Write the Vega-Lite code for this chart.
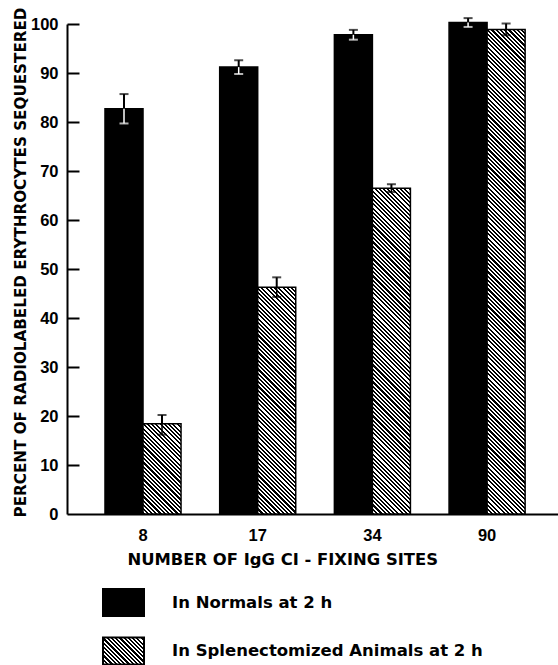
{
"$schema":"https://vega.github.io/schema/vega-lite/v6.json",
"width":491,"height":490,
"autosize":{"type":"none"},
"padding":{"left":67,"top":24,"right":0,"bottom":151},
"background":"#ffffff",
"config":{"view":{"stroke":null},"font":"DejaVu Sans"},
"resolve":{"axis":{"y":"independent"}},
"data":{"values":[
{"sites":"8","group":"In Normals at 2 h","value":82.7,"lo":79.7,"hi":85.7},
{"sites":"17","group":"In Normals at 2 h","value":91.2,"lo":89.8,"hi":92.6},
{"sites":"34","group":"In Normals at 2 h","value":97.8,"lo":96.8,"hi":98.8},
{"sites":"90","group":"In Normals at 2 h","value":100.3,"lo":99.4,"hi":101.2},
{"sites":"8","group":"In Splenectomized Animals at 2 h","value":18.4,"lo":16.2,"hi":20.2},
{"sites":"17","group":"In Splenectomized Animals at 2 h","value":46.3,"lo":44.3,"hi":48.3},
{"sites":"34","group":"In Splenectomized Animals at 2 h","value":66.5,"lo":65.7,"hi":67.3},
{"sites":"90","group":"In Splenectomized Animals at 2 h","value":98.9,"lo":97.7,"hi":100.1}
]},
"encoding":{
"x":{"field":"sites","type":"ordinal","sort":["8","17","34","90"],"scale":{"paddingInner":0.337,"paddingOuter":0.309,"align":0.536},
"axis":{"title":"NUMBER OF IgG CI - FIXING SITES","labelAngle":0,"ticks":false,"domainColor":"#000","domainWidth":2,"labelFont":"Liberation Sans","labelFontWeight":"bold","labelFontSize":16.5,"labelColor":"#000","labelPadding":13,"titleFont":"DejaVu Sans","titleFontWeight":"bold","titleFontSize":16.4,"titleColor":"#000","titleX":60,"titleY":45,"titleAlign":"left","titleAnchor":"start","titleBaseline":"middle"}},
"xOffset":{"field":"group","type":"nominal","sort":["In Normals at 2 h","In Splenectomized Animals at 2 h"],"scale":{"paddingInner":0,"paddingOuter":0}}
},
"layer":[
{"mark":{"type":"bar","stroke":"#000","strokeWidth":1.5},
"encoding":{
"y":{"field":"value","type":"quantitative","scale":{"domain":[0,100],"nice":false,"zero":true},
"axis":{"title":"PERCENT OF RADIOLABELED ERYTHROCYTES SEQUESTERED","orient":"left","values":[0,10,20,30,40,50,60,70,80,90,100],"grid":false,"ticks":false,"domainColor":"#000","domainWidth":2,"labelFont":"Liberation Sans","labelFontWeight":"bold","labelFontSize":16.5,"labelColor":"#000","labelPadding":9,"titleFont":"DejaVu Sans","titleFontWeight":"bold","titleFontSize":15.2,"titleColor":"#000","titleX":-47,"titleY":238,"titleAlign":"center","titleBaseline":"middle","titleAngle":-90}},
"fill":{"field":"group","type":"nominal","scale":{"domain":["In Normals at 2 h","In Splenectomized Animals at 2 h"],"range":["#000",{"expr":"{gradient:'linear',x1:0,y1:1,x2:9.0102,y2:-4.9467,stops:[{offset:0,color:'#000'},{offset:0.004,color:'#000'},{offset:0.004,color:'#fff'},{offset:0.008,color:'#fff'},{offset:0.008,color:'#000'},{offset:0.012,color:'#000'},{offset:0.012,color:'#fff'},{offset:0.016,color:'#fff'},{offset:0.016,color:'#000'},{offset:0.02,color:'#000'},{offset:0.02,color:'#fff'},{offset:0.024,color:'#fff'},{offset:0.024,color:'#000'},{offset:0.028,color:'#000'},{offset:0.028,color:'#fff'},{offset:0.032,color:'#fff'},{offset:0.032,color:'#000'},{offset:0.036,color:'#000'},{offset:0.036,color:'#fff'},{offset:0.04,color:'#fff'},{offset:0.04,color:'#000'},{offset:0.044,color:'#000'},{offset:0.044,color:'#fff'},{offset:0.048,color:'#fff'},{offset:0.048,color:'#000'},{offset:0.052,color:'#000'},{offset:0.052,color:'#fff'},{offset:0.056,color:'#fff'},{offset:0.056,color:'#000'},{offset:0.06,color:'#000'},{offset:0.06,color:'#fff'},{offset:0.064,color:'#fff'},{offset:0.064,color:'#000'},{offset:0.068,color:'#000'},{offset:0.068,color:'#fff'},{offset:0.072,color:'#fff'},{offset:0.072,color:'#000'},{offset:0.076,color:'#000'},{offset:0.076,color:'#fff'},{offset:0.08,color:'#fff'},{offset:0.08,color:'#000'},{offset:0.084,color:'#000'},{offset:0.084,color:'#fff'},{offset:0.088,color:'#fff'},{offset:0.088,color:'#000'},{offset:0.092,color:'#000'},{offset:0.092,color:'#fff'},{offset:0.096,color:'#fff'},{offset:0.096,color:'#000'},{offset:0.1,color:'#000'},{offset:0.1,color:'#fff'},{offset:0.104,color:'#fff'},{offset:0.104,color:'#000'},{offset:0.108,color:'#000'},{offset:0.108,color:'#fff'},{offset:0.112,color:'#fff'},{offset:0.112,color:'#000'},{offset:0.116,color:'#000'},{offset:0.116,color:'#fff'},{offset:0.12,color:'#fff'},{offset:0.12,color:'#000'},{offset:0.124,color:'#000'},{offset:0.124,color:'#fff'},{offset:0.128,color:'#fff'},{offset:0.128,color:'#000'},{offset:0.132,color:'#000'},{offset:0.132,color:'#fff'},{offset:0.136,color:'#fff'},{offset:0.136,color:'#000'},{offset:0.14,color:'#000'},{offset:0.14,color:'#fff'},{offset:0.144,color:'#fff'},{offset:0.144,color:'#000'}]}"}]},
"legend":{"orient":"none","legendX":35,"legendY":557,"title":null,"direction":"vertical","symbolType":"M-1,-0.66H1V0.66H-1Z","symbolSize":1681,"symbolStrokeColor":"#000","symbolStrokeWidth":2,"symbolOpacity":1,"rowPadding":8.5,"labelOffset":27,"labelFont":"DejaVu Sans","labelFontWeight":"bold","labelFontSize":16.5,"labelColor":"#000","labelLimit":0,"padding":0,
"encode":{"symbols":{"update":{"stroke":{"value":"#000"},"strokeWidth":{"value":2},"opacity":{"value":1}}}}},
"condition":[
{"test":"datum.group==='In Splenectomized Animals at 2 h' && datum.sites==='8'","value":{"gradient":"linear","x1":0,"y1":1,"x2":2.106,"y2":-3.9942,"stops":[
{"offset":0,"color":"#000"},
{"offset":0.004,"color":"#000"},{"offset":0.004,"color":"#fff"},{"offset":0.008,"color":"#fff"},{"offset":0.008,"color":"#000"},{"offset":0.012,"color":"#000"},{"offset":0.012,"color":"#fff"},{"offset":0.016,"color":"#fff"},{"offset":0.016,"color":"#000"},{"offset":0.02,"color":"#000"},{"offset":0.02,"color":"#fff"},{"offset":0.024,"color":"#fff"},{"offset":0.024,"color":"#000"},{"offset":0.028,"color":"#000"},{"offset":0.028,"color":"#fff"},{"offset":0.032,"color":"#fff"},{"offset":0.032,"color":"#000"},{"offset":0.036,"color":"#000"},{"offset":0.036,"color":"#fff"},{"offset":0.04,"color":"#fff"},{"offset":0.04,"color":"#000"},
{"offset":0.044,"color":"#000"},{"offset":0.044,"color":"#fff"},{"offset":0.048,"color":"#fff"},{"offset":0.048,"color":"#000"},{"offset":0.052,"color":"#000"},{"offset":0.052,"color":"#fff"},{"offset":0.056,"color":"#fff"},{"offset":0.056,"color":"#000"},{"offset":0.06,"color":"#000"},{"offset":0.06,"color":"#fff"},{"offset":0.064,"color":"#fff"},{"offset":0.064,"color":"#000"},{"offset":0.068,"color":"#000"},{"offset":0.068,"color":"#fff"},{"offset":0.072,"color":"#fff"},{"offset":0.072,"color":"#000"},{"offset":0.076,"color":"#000"},{"offset":0.076,"color":"#fff"},{"offset":0.08,"color":"#fff"},{"offset":0.08,"color":"#000"},
{"offset":0.084,"color":"#000"},{"offset":0.084,"color":"#fff"},{"offset":0.088,"color":"#fff"},{"offset":0.088,"color":"#000"},{"offset":0.092,"color":"#000"},{"offset":0.092,"color":"#fff"},{"offset":0.096,"color":"#fff"},{"offset":0.096,"color":"#000"},{"offset":0.1,"color":"#000"},{"offset":0.1,"color":"#fff"},{"offset":0.104,"color":"#fff"},{"offset":0.104,"color":"#000"},{"offset":0.108,"color":"#000"},{"offset":0.108,"color":"#fff"},{"offset":0.112,"color":"#fff"},{"offset":0.112,"color":"#000"},{"offset":0.116,"color":"#000"},{"offset":0.116,"color":"#fff"},{"offset":0.12,"color":"#fff"},{"offset":0.12,"color":"#000"},
{"offset":0.124,"color":"#000"},{"offset":0.124,"color":"#fff"},{"offset":0.128,"color":"#fff"},{"offset":0.128,"color":"#000"},{"offset":0.132,"color":"#000"},{"offset":0.132,"color":"#fff"},{"offset":0.136,"color":"#fff"},{"offset":0.136,"color":"#000"},{"offset":0.14,"color":"#000"},{"offset":0.14,"color":"#fff"},{"offset":0.144,"color":"#fff"},{"offset":0.144,"color":"#000"},{"offset":0.148,"color":"#000"},{"offset":0.148,"color":"#fff"},{"offset":0.152,"color":"#fff"},{"offset":0.152,"color":"#000"},{"offset":0.156,"color":"#000"},{"offset":0.156,"color":"#fff"},{"offset":0.16,"color":"#fff"},{"offset":0.16,"color":"#000"},
{"offset":0.164,"color":"#000"},{"offset":0.164,"color":"#fff"},{"offset":0.168,"color":"#fff"},{"offset":0.168,"color":"#000"},{"offset":0.172,"color":"#000"},{"offset":0.172,"color":"#fff"},{"offset":0.176,"color":"#fff"},{"offset":0.176,"color":"#000"},{"offset":0.18,"color":"#000"},{"offset":0.18,"color":"#fff"},{"offset":0.184,"color":"#fff"},{"offset":0.184,"color":"#000"},{"offset":0.188,"color":"#000"},{"offset":0.188,"color":"#fff"},{"offset":0.192,"color":"#fff"},{"offset":0.192,"color":"#000"},{"offset":0.196,"color":"#000"},{"offset":0.196,"color":"#fff"},{"offset":0.2,"color":"#fff"},{"offset":0.2,"color":"#000"},
{"offset":0.204,"color":"#000"},{"offset":0.204,"color":"#fff"},{"offset":0.208,"color":"#fff"},{"offset":0.208,"color":"#000"},{"offset":0.212,"color":"#000"},{"offset":0.212,"color":"#fff"},{"offset":0.216,"color":"#fff"},{"offset":0.216,"color":"#000"},{"offset":0.22,"color":"#000"},{"offset":0.22,"color":"#fff"},{"offset":0.224,"color":"#fff"},{"offset":0.224,"color":"#000"},{"offset":0.228,"color":"#000"},{"offset":0.228,"color":"#fff"},{"offset":0.232,"color":"#fff"},{"offset":0.232,"color":"#000"},{"offset":0.236,"color":"#000"},{"offset":0.236,"color":"#fff"},{"offset":0.24,"color":"#fff"},{"offset":0.24,"color":"#000"},
{"offset":0.244,"color":"#000"},{"offset":0.244,"color":"#fff"},{"offset":0.248,"color":"#fff"},{"offset":0.248,"color":"#000"}
]}},
{"test":"datum.group==='In Splenectomized Animals at 2 h' && datum.sites==='17'","value":{"gradient":"linear","x1":0,"y1":1,"x2":0.38106,"y2":-1.2738,"stops":[
{"offset":0,"color":"#000"},
{"offset":0.004,"color":"#000"},{"offset":0.004,"color":"#fff"},{"offset":0.008,"color":"#fff"},{"offset":0.008,"color":"#000"},{"offset":0.012,"color":"#000"},{"offset":0.012,"color":"#fff"},{"offset":0.016,"color":"#fff"},{"offset":0.016,"color":"#000"},{"offset":0.02,"color":"#000"},{"offset":0.02,"color":"#fff"},{"offset":0.024,"color":"#fff"},{"offset":0.024,"color":"#000"},{"offset":0.028,"color":"#000"},{"offset":0.028,"color":"#fff"},{"offset":0.032,"color":"#fff"},{"offset":0.032,"color":"#000"},{"offset":0.036,"color":"#000"},{"offset":0.036,"color":"#fff"},{"offset":0.04,"color":"#fff"},{"offset":0.04,"color":"#000"},
{"offset":0.044,"color":"#000"},{"offset":0.044,"color":"#fff"},{"offset":0.048,"color":"#fff"},{"offset":0.048,"color":"#000"},{"offset":0.052,"color":"#000"},{"offset":0.052,"color":"#fff"},{"offset":0.056,"color":"#fff"},{"offset":0.056,"color":"#000"},{"offset":0.06,"color":"#000"},{"offset":0.06,"color":"#fff"},{"offset":0.064,"color":"#fff"},{"offset":0.064,"color":"#000"},{"offset":0.068,"color":"#000"},{"offset":0.068,"color":"#fff"},{"offset":0.072,"color":"#fff"},{"offset":0.072,"color":"#000"},{"offset":0.076,"color":"#000"},{"offset":0.076,"color":"#fff"},{"offset":0.08,"color":"#fff"},{"offset":0.08,"color":"#000"},
{"offset":0.084,"color":"#000"},{"offset":0.084,"color":"#fff"},{"offset":0.088,"color":"#fff"},{"offset":0.088,"color":"#000"},{"offset":0.092,"color":"#000"},{"offset":0.092,"color":"#fff"},{"offset":0.096,"color":"#fff"},{"offset":0.096,"color":"#000"},{"offset":0.1,"color":"#000"},{"offset":0.1,"color":"#fff"},{"offset":0.104,"color":"#fff"},{"offset":0.104,"color":"#000"},{"offset":0.108,"color":"#000"},{"offset":0.108,"color":"#fff"},{"offset":0.112,"color":"#fff"},{"offset":0.112,"color":"#000"},{"offset":0.116,"color":"#000"},{"offset":0.116,"color":"#fff"},{"offset":0.12,"color":"#fff"},{"offset":0.12,"color":"#000"},
{"offset":0.124,"color":"#000"},{"offset":0.124,"color":"#fff"},{"offset":0.128,"color":"#fff"},{"offset":0.128,"color":"#000"},{"offset":0.132,"color":"#000"},{"offset":0.132,"color":"#fff"},{"offset":0.136,"color":"#fff"},{"offset":0.136,"color":"#000"},{"offset":0.14,"color":"#000"},{"offset":0.14,"color":"#fff"},{"offset":0.144,"color":"#fff"},{"offset":0.144,"color":"#000"},{"offset":0.148,"color":"#000"},{"offset":0.148,"color":"#fff"},{"offset":0.152,"color":"#fff"},{"offset":0.152,"color":"#000"},{"offset":0.156,"color":"#000"},{"offset":0.156,"color":"#fff"},{"offset":0.16,"color":"#fff"},{"offset":0.16,"color":"#000"},
{"offset":0.164,"color":"#000"},{"offset":0.164,"color":"#fff"},{"offset":0.168,"color":"#fff"},{"offset":0.168,"color":"#000"},{"offset":0.172,"color":"#000"},{"offset":0.172,"color":"#fff"},{"offset":0.176,"color":"#fff"},{"offset":0.176,"color":"#000"},{"offset":0.18,"color":"#000"},{"offset":0.18,"color":"#fff"},{"offset":0.184,"color":"#fff"},{"offset":0.184,"color":"#000"},{"offset":0.188,"color":"#000"},{"offset":0.188,"color":"#fff"},{"offset":0.192,"color":"#fff"},{"offset":0.192,"color":"#000"},{"offset":0.196,"color":"#000"},{"offset":0.196,"color":"#fff"},{"offset":0.2,"color":"#fff"},{"offset":0.2,"color":"#000"},
{"offset":0.204,"color":"#000"},{"offset":0.204,"color":"#fff"},{"offset":0.208,"color":"#fff"},{"offset":0.208,"color":"#000"},{"offset":0.212,"color":"#000"},{"offset":0.212,"color":"#fff"},{"offset":0.216,"color":"#fff"},{"offset":0.216,"color":"#000"},{"offset":0.22,"color":"#000"},{"offset":0.22,"color":"#fff"},{"offset":0.224,"color":"#fff"},{"offset":0.224,"color":"#000"},{"offset":0.228,"color":"#000"},{"offset":0.228,"color":"#fff"},{"offset":0.232,"color":"#fff"},{"offset":0.232,"color":"#000"},{"offset":0.236,"color":"#000"},{"offset":0.236,"color":"#fff"},{"offset":0.24,"color":"#fff"},{"offset":0.24,"color":"#000"},
{"offset":0.244,"color":"#000"},{"offset":0.244,"color":"#fff"},{"offset":0.248,"color":"#fff"},{"offset":0.248,"color":"#000"},{"offset":0.252,"color":"#000"},{"offset":0.252,"color":"#fff"},{"offset":0.256,"color":"#fff"},{"offset":0.256,"color":"#000"},{"offset":0.26,"color":"#000"},{"offset":0.26,"color":"#fff"},{"offset":0.264,"color":"#fff"},{"offset":0.264,"color":"#000"},{"offset":0.268,"color":"#000"},{"offset":0.268,"color":"#fff"},{"offset":0.272,"color":"#fff"},{"offset":0.272,"color":"#000"},{"offset":0.276,"color":"#000"},{"offset":0.276,"color":"#fff"},{"offset":0.28,"color":"#fff"},{"offset":0.28,"color":"#000"},
{"offset":0.284,"color":"#000"},{"offset":0.284,"color":"#fff"},{"offset":0.288,"color":"#fff"},{"offset":0.288,"color":"#000"},{"offset":0.292,"color":"#000"},{"offset":0.292,"color":"#fff"},{"offset":0.296,"color":"#fff"},{"offset":0.296,"color":"#000"},{"offset":0.3,"color":"#000"},{"offset":0.3,"color":"#fff"},{"offset":0.304,"color":"#fff"},{"offset":0.304,"color":"#000"},{"offset":0.308,"color":"#000"},{"offset":0.308,"color":"#fff"},{"offset":0.312,"color":"#fff"},{"offset":0.312,"color":"#000"},{"offset":0.316,"color":"#000"},{"offset":0.316,"color":"#fff"},{"offset":0.32,"color":"#fff"},{"offset":0.32,"color":"#000"},
{"offset":0.324,"color":"#000"},{"offset":0.324,"color":"#fff"},{"offset":0.328,"color":"#fff"},{"offset":0.328,"color":"#000"},{"offset":0.332,"color":"#000"},{"offset":0.332,"color":"#fff"},{"offset":0.336,"color":"#fff"},{"offset":0.336,"color":"#000"},{"offset":0.34,"color":"#000"},{"offset":0.34,"color":"#fff"},{"offset":0.344,"color":"#fff"},{"offset":0.344,"color":"#000"},{"offset":0.348,"color":"#000"},{"offset":0.348,"color":"#fff"},{"offset":0.352,"color":"#fff"},{"offset":0.352,"color":"#000"},{"offset":0.356,"color":"#000"},{"offset":0.356,"color":"#fff"},{"offset":0.36,"color":"#fff"},{"offset":0.36,"color":"#000"},
{"offset":0.364,"color":"#000"},{"offset":0.364,"color":"#fff"},{"offset":0.368,"color":"#fff"},{"offset":0.368,"color":"#000"},{"offset":0.372,"color":"#000"},{"offset":0.372,"color":"#fff"},{"offset":0.376,"color":"#fff"},{"offset":0.376,"color":"#000"},{"offset":0.38,"color":"#000"},{"offset":0.38,"color":"#fff"},{"offset":0.384,"color":"#fff"},{"offset":0.384,"color":"#000"},{"offset":0.388,"color":"#000"},{"offset":0.388,"color":"#fff"},{"offset":0.392,"color":"#fff"},{"offset":0.392,"color":"#000"},{"offset":0.396,"color":"#000"},{"offset":0.396,"color":"#fff"},{"offset":0.4,"color":"#fff"},{"offset":0.4,"color":"#000"},
{"offset":0.404,"color":"#000"},{"offset":0.404,"color":"#fff"},{"offset":0.408,"color":"#fff"},{"offset":0.408,"color":"#000"},{"offset":0.412,"color":"#000"},{"offset":0.412,"color":"#fff"},{"offset":0.416,"color":"#fff"},{"offset":0.416,"color":"#000"},{"offset":0.42,"color":"#000"},{"offset":0.42,"color":"#fff"},{"offset":0.424,"color":"#fff"},{"offset":0.424,"color":"#000"},{"offset":0.428,"color":"#000"},{"offset":0.428,"color":"#fff"},{"offset":0.432,"color":"#fff"},{"offset":0.432,"color":"#000"},{"offset":0.436,"color":"#000"},{"offset":0.436,"color":"#fff"},{"offset":0.44,"color":"#fff"},{"offset":0.44,"color":"#000"},
{"offset":0.444,"color":"#000"},{"offset":0.444,"color":"#fff"},{"offset":0.448,"color":"#fff"},{"offset":0.448,"color":"#000"},{"offset":0.452,"color":"#000"},{"offset":0.452,"color":"#fff"},{"offset":0.456,"color":"#fff"},{"offset":0.456,"color":"#000"},{"offset":0.46,"color":"#000"},{"offset":0.46,"color":"#fff"},{"offset":0.464,"color":"#fff"},{"offset":0.464,"color":"#000"},{"offset":0.468,"color":"#000"},{"offset":0.468,"color":"#fff"},{"offset":0.472,"color":"#fff"},{"offset":0.472,"color":"#000"},{"offset":0.476,"color":"#000"},{"offset":0.476,"color":"#fff"},{"offset":0.48,"color":"#fff"},{"offset":0.48,"color":"#000"},
{"offset":0.484,"color":"#000"},{"offset":0.484,"color":"#fff"},{"offset":0.488,"color":"#fff"},{"offset":0.488,"color":"#000"},{"offset":0.492,"color":"#000"},{"offset":0.492,"color":"#fff"},{"offset":0.496,"color":"#fff"},{"offset":0.496,"color":"#000"},{"offset":0.5,"color":"#000"},{"offset":0.5,"color":"#fff"},{"offset":0.504,"color":"#fff"},{"offset":0.504,"color":"#000"}
]}},
{"test":"datum.group==='In Splenectomized Animals at 2 h' && datum.sites==='34'","value":{"gradient":"linear","x1":0,"y1":1,"x2":0.18735,"y2":-0.60565,"stops":[
{"offset":0,"color":"#000"},
{"offset":0.004,"color":"#000"},{"offset":0.004,"color":"#fff"},{"offset":0.008,"color":"#fff"},{"offset":0.008,"color":"#000"},{"offset":0.012,"color":"#000"},{"offset":0.012,"color":"#fff"},{"offset":0.016,"color":"#fff"},{"offset":0.016,"color":"#000"},{"offset":0.02,"color":"#000"},{"offset":0.02,"color":"#fff"},{"offset":0.024,"color":"#fff"},{"offset":0.024,"color":"#000"},{"offset":0.028,"color":"#000"},{"offset":0.028,"color":"#fff"},{"offset":0.032,"color":"#fff"},{"offset":0.032,"color":"#000"},{"offset":0.036,"color":"#000"},{"offset":0.036,"color":"#fff"},{"offset":0.04,"color":"#fff"},{"offset":0.04,"color":"#000"},
{"offset":0.044,"color":"#000"},{"offset":0.044,"color":"#fff"},{"offset":0.048,"color":"#fff"},{"offset":0.048,"color":"#000"},{"offset":0.052,"color":"#000"},{"offset":0.052,"color":"#fff"},{"offset":0.056,"color":"#fff"},{"offset":0.056,"color":"#000"},{"offset":0.06,"color":"#000"},{"offset":0.06,"color":"#fff"},{"offset":0.064,"color":"#fff"},{"offset":0.064,"color":"#000"},{"offset":0.068,"color":"#000"},{"offset":0.068,"color":"#fff"},{"offset":0.072,"color":"#fff"},{"offset":0.072,"color":"#000"},{"offset":0.076,"color":"#000"},{"offset":0.076,"color":"#fff"},{"offset":0.08,"color":"#fff"},{"offset":0.08,"color":"#000"},
{"offset":0.084,"color":"#000"},{"offset":0.084,"color":"#fff"},{"offset":0.088,"color":"#fff"},{"offset":0.088,"color":"#000"},{"offset":0.092,"color":"#000"},{"offset":0.092,"color":"#fff"},{"offset":0.096,"color":"#fff"},{"offset":0.096,"color":"#000"},{"offset":0.1,"color":"#000"},{"offset":0.1,"color":"#fff"},{"offset":0.104,"color":"#fff"},{"offset":0.104,"color":"#000"},{"offset":0.108,"color":"#000"},{"offset":0.108,"color":"#fff"},{"offset":0.112,"color":"#fff"},{"offset":0.112,"color":"#000"},{"offset":0.116,"color":"#000"},{"offset":0.116,"color":"#fff"},{"offset":0.12,"color":"#fff"},{"offset":0.12,"color":"#000"},
{"offset":0.124,"color":"#000"},{"offset":0.124,"color":"#fff"},{"offset":0.128,"color":"#fff"},{"offset":0.128,"color":"#000"},{"offset":0.132,"color":"#000"},{"offset":0.132,"color":"#fff"},{"offset":0.136,"color":"#fff"},{"offset":0.136,"color":"#000"},{"offset":0.14,"color":"#000"},{"offset":0.14,"color":"#fff"},{"offset":0.144,"color":"#fff"},{"offset":0.144,"color":"#000"},{"offset":0.148,"color":"#000"},{"offset":0.148,"color":"#fff"},{"offset":0.152,"color":"#fff"},{"offset":0.152,"color":"#000"},{"offset":0.156,"color":"#000"},{"offset":0.156,"color":"#fff"},{"offset":0.16,"color":"#fff"},{"offset":0.16,"color":"#000"},
{"offset":0.164,"color":"#000"},{"offset":0.164,"color":"#fff"},{"offset":0.168,"color":"#fff"},{"offset":0.168,"color":"#000"},{"offset":0.172,"color":"#000"},{"offset":0.172,"color":"#fff"},{"offset":0.176,"color":"#fff"},{"offset":0.176,"color":"#000"},{"offset":0.18,"color":"#000"},{"offset":0.18,"color":"#fff"},{"offset":0.184,"color":"#fff"},{"offset":0.184,"color":"#000"},{"offset":0.188,"color":"#000"},{"offset":0.188,"color":"#fff"},{"offset":0.192,"color":"#fff"},{"offset":0.192,"color":"#000"},{"offset":0.196,"color":"#000"},{"offset":0.196,"color":"#fff"},{"offset":0.2,"color":"#fff"},{"offset":0.2,"color":"#000"},
{"offset":0.204,"color":"#000"},{"offset":0.204,"color":"#fff"},{"offset":0.208,"color":"#fff"},{"offset":0.208,"color":"#000"},{"offset":0.212,"color":"#000"},{"offset":0.212,"color":"#fff"},{"offset":0.216,"color":"#fff"},{"offset":0.216,"color":"#000"},{"offset":0.22,"color":"#000"},{"offset":0.22,"color":"#fff"},{"offset":0.224,"color":"#fff"},{"offset":0.224,"color":"#000"},{"offset":0.228,"color":"#000"},{"offset":0.228,"color":"#fff"},{"offset":0.232,"color":"#fff"},{"offset":0.232,"color":"#000"},{"offset":0.236,"color":"#000"},{"offset":0.236,"color":"#fff"},{"offset":0.24,"color":"#fff"},{"offset":0.24,"color":"#000"},
{"offset":0.244,"color":"#000"},{"offset":0.244,"color":"#fff"},{"offset":0.248,"color":"#fff"},{"offset":0.248,"color":"#000"},{"offset":0.252,"color":"#000"},{"offset":0.252,"color":"#fff"},{"offset":0.256,"color":"#fff"},{"offset":0.256,"color":"#000"},{"offset":0.26,"color":"#000"},{"offset":0.26,"color":"#fff"},{"offset":0.264,"color":"#fff"},{"offset":0.264,"color":"#000"},{"offset":0.268,"color":"#000"},{"offset":0.268,"color":"#fff"},{"offset":0.272,"color":"#fff"},{"offset":0.272,"color":"#000"},{"offset":0.276,"color":"#000"},{"offset":0.276,"color":"#fff"},{"offset":0.28,"color":"#fff"},{"offset":0.28,"color":"#000"},
{"offset":0.284,"color":"#000"},{"offset":0.284,"color":"#fff"},{"offset":0.288,"color":"#fff"},{"offset":0.288,"color":"#000"},{"offset":0.292,"color":"#000"},{"offset":0.292,"color":"#fff"},{"offset":0.296,"color":"#fff"},{"offset":0.296,"color":"#000"},{"offset":0.3,"color":"#000"},{"offset":0.3,"color":"#fff"},{"offset":0.304,"color":"#fff"},{"offset":0.304,"color":"#000"},{"offset":0.308,"color":"#000"},{"offset":0.308,"color":"#fff"},{"offset":0.312,"color":"#fff"},{"offset":0.312,"color":"#000"},{"offset":0.316,"color":"#000"},{"offset":0.316,"color":"#fff"},{"offset":0.32,"color":"#fff"},{"offset":0.32,"color":"#000"},
{"offset":0.324,"color":"#000"},{"offset":0.324,"color":"#fff"},{"offset":0.328,"color":"#fff"},{"offset":0.328,"color":"#000"},{"offset":0.332,"color":"#000"},{"offset":0.332,"color":"#fff"},{"offset":0.336,"color":"#fff"},{"offset":0.336,"color":"#000"},{"offset":0.34,"color":"#000"},{"offset":0.34,"color":"#fff"},{"offset":0.344,"color":"#fff"},{"offset":0.344,"color":"#000"},{"offset":0.348,"color":"#000"},{"offset":0.348,"color":"#fff"},{"offset":0.352,"color":"#fff"},{"offset":0.352,"color":"#000"},{"offset":0.356,"color":"#000"},{"offset":0.356,"color":"#fff"},{"offset":0.36,"color":"#fff"},{"offset":0.36,"color":"#000"},
{"offset":0.364,"color":"#000"},{"offset":0.364,"color":"#fff"},{"offset":0.368,"color":"#fff"},{"offset":0.368,"color":"#000"},{"offset":0.372,"color":"#000"},{"offset":0.372,"color":"#fff"},{"offset":0.376,"color":"#fff"},{"offset":0.376,"color":"#000"},{"offset":0.38,"color":"#000"},{"offset":0.38,"color":"#fff"},{"offset":0.384,"color":"#fff"},{"offset":0.384,"color":"#000"},{"offset":0.388,"color":"#000"},{"offset":0.388,"color":"#fff"},{"offset":0.392,"color":"#fff"},{"offset":0.392,"color":"#000"},{"offset":0.396,"color":"#000"},{"offset":0.396,"color":"#fff"},{"offset":0.4,"color":"#fff"},{"offset":0.4,"color":"#000"},
{"offset":0.404,"color":"#000"},{"offset":0.404,"color":"#fff"},{"offset":0.408,"color":"#fff"},{"offset":0.408,"color":"#000"},{"offset":0.412,"color":"#000"},{"offset":0.412,"color":"#fff"},{"offset":0.416,"color":"#fff"},{"offset":0.416,"color":"#000"},{"offset":0.42,"color":"#000"},{"offset":0.42,"color":"#fff"},{"offset":0.424,"color":"#fff"},{"offset":0.424,"color":"#000"},{"offset":0.428,"color":"#000"},{"offset":0.428,"color":"#fff"},{"offset":0.432,"color":"#fff"},{"offset":0.432,"color":"#000"},{"offset":0.436,"color":"#000"},{"offset":0.436,"color":"#fff"},{"offset":0.44,"color":"#fff"},{"offset":0.44,"color":"#000"},
{"offset":0.444,"color":"#000"},{"offset":0.444,"color":"#fff"},{"offset":0.448,"color":"#fff"},{"offset":0.448,"color":"#000"},{"offset":0.452,"color":"#000"},{"offset":0.452,"color":"#fff"},{"offset":0.456,"color":"#fff"},{"offset":0.456,"color":"#000"},{"offset":0.46,"color":"#000"},{"offset":0.46,"color":"#fff"},{"offset":0.464,"color":"#fff"},{"offset":0.464,"color":"#000"},{"offset":0.468,"color":"#000"},{"offset":0.468,"color":"#fff"},{"offset":0.472,"color":"#fff"},{"offset":0.472,"color":"#000"},{"offset":0.476,"color":"#000"},{"offset":0.476,"color":"#fff"},{"offset":0.48,"color":"#fff"},{"offset":0.48,"color":"#000"},
{"offset":0.484,"color":"#000"},{"offset":0.484,"color":"#fff"},{"offset":0.488,"color":"#fff"},{"offset":0.488,"color":"#000"},{"offset":0.492,"color":"#000"},{"offset":0.492,"color":"#fff"},{"offset":0.496,"color":"#fff"},{"offset":0.496,"color":"#000"},{"offset":0.5,"color":"#000"},{"offset":0.5,"color":"#fff"},{"offset":0.504,"color":"#fff"},{"offset":0.504,"color":"#000"},{"offset":0.508,"color":"#000"},{"offset":0.508,"color":"#fff"},{"offset":0.512,"color":"#fff"},{"offset":0.512,"color":"#000"},{"offset":0.516,"color":"#000"},{"offset":0.516,"color":"#fff"},{"offset":0.52,"color":"#fff"},{"offset":0.52,"color":"#000"},
{"offset":0.524,"color":"#000"},{"offset":0.524,"color":"#fff"},{"offset":0.528,"color":"#fff"},{"offset":0.528,"color":"#000"},{"offset":0.532,"color":"#000"},{"offset":0.532,"color":"#fff"},{"offset":0.536,"color":"#fff"},{"offset":0.536,"color":"#000"},{"offset":0.54,"color":"#000"},{"offset":0.54,"color":"#fff"},{"offset":0.544,"color":"#fff"},{"offset":0.544,"color":"#000"},{"offset":0.548,"color":"#000"},{"offset":0.548,"color":"#fff"},{"offset":0.552,"color":"#fff"},{"offset":0.552,"color":"#000"},{"offset":0.556,"color":"#000"},{"offset":0.556,"color":"#fff"},{"offset":0.56,"color":"#fff"},{"offset":0.56,"color":"#000"},
{"offset":0.564,"color":"#000"},{"offset":0.564,"color":"#fff"},{"offset":0.568,"color":"#fff"},{"offset":0.568,"color":"#000"},{"offset":0.572,"color":"#000"},{"offset":0.572,"color":"#fff"},{"offset":0.576,"color":"#fff"},{"offset":0.576,"color":"#000"},{"offset":0.58,"color":"#000"},{"offset":0.58,"color":"#fff"},{"offset":0.584,"color":"#fff"},{"offset":0.584,"color":"#000"},{"offset":0.588,"color":"#000"},{"offset":0.588,"color":"#fff"},{"offset":0.592,"color":"#fff"},{"offset":0.592,"color":"#000"},{"offset":0.596,"color":"#000"},{"offset":0.596,"color":"#fff"},{"offset":0.6,"color":"#fff"},{"offset":0.6,"color":"#000"},
{"offset":0.604,"color":"#000"},{"offset":0.604,"color":"#fff"},{"offset":0.608,"color":"#fff"},{"offset":0.608,"color":"#000"},{"offset":0.612,"color":"#000"},{"offset":0.612,"color":"#fff"},{"offset":0.616,"color":"#fff"},{"offset":0.616,"color":"#000"},{"offset":0.62,"color":"#000"},{"offset":0.62,"color":"#fff"},{"offset":0.624,"color":"#fff"},{"offset":0.624,"color":"#000"},{"offset":0.628,"color":"#000"},{"offset":0.628,"color":"#fff"},{"offset":0.632,"color":"#fff"},{"offset":0.632,"color":"#000"},{"offset":0.636,"color":"#000"},{"offset":0.636,"color":"#fff"},{"offset":0.64,"color":"#fff"},{"offset":0.64,"color":"#000"},
{"offset":0.644,"color":"#000"},{"offset":0.644,"color":"#fff"},{"offset":0.648,"color":"#fff"},{"offset":0.648,"color":"#000"},{"offset":0.652,"color":"#000"},{"offset":0.652,"color":"#fff"},{"offset":0.656,"color":"#fff"},{"offset":0.656,"color":"#000"},{"offset":0.66,"color":"#000"},{"offset":0.66,"color":"#fff"},{"offset":0.664,"color":"#fff"},{"offset":0.664,"color":"#000"},{"offset":0.668,"color":"#000"},{"offset":0.668,"color":"#fff"},{"offset":0.672,"color":"#fff"},{"offset":0.672,"color":"#000"},{"offset":0.676,"color":"#000"},{"offset":0.676,"color":"#fff"},{"offset":0.68,"color":"#fff"},{"offset":0.68,"color":"#000"},
{"offset":0.684,"color":"#000"},{"offset":0.684,"color":"#fff"},{"offset":0.688,"color":"#fff"},{"offset":0.688,"color":"#000"},{"offset":0.692,"color":"#000"},{"offset":0.692,"color":"#fff"}
]}},
{"test":"datum.group==='In Splenectomized Animals at 2 h' && datum.sites==='90'","value":{"gradient":"linear","x1":0,"y1":1,"x2":0.085333,"y2":-0.08766,"stops":[
{"offset":0,"color":"#000"},
{"offset":0.004,"color":"#000"},{"offset":0.004,"color":"#fff"},{"offset":0.008,"color":"#fff"},{"offset":0.008,"color":"#000"},{"offset":0.012,"color":"#000"},{"offset":0.012,"color":"#fff"},{"offset":0.016,"color":"#fff"},{"offset":0.016,"color":"#000"},{"offset":0.02,"color":"#000"},{"offset":0.02,"color":"#fff"},{"offset":0.024,"color":"#fff"},{"offset":0.024,"color":"#000"},{"offset":0.028,"color":"#000"},{"offset":0.028,"color":"#fff"},{"offset":0.032,"color":"#fff"},{"offset":0.032,"color":"#000"},{"offset":0.036,"color":"#000"},{"offset":0.036,"color":"#fff"},{"offset":0.04,"color":"#fff"},{"offset":0.04,"color":"#000"},
{"offset":0.044,"color":"#000"},{"offset":0.044,"color":"#fff"},{"offset":0.048,"color":"#fff"},{"offset":0.048,"color":"#000"},{"offset":0.052,"color":"#000"},{"offset":0.052,"color":"#fff"},{"offset":0.056,"color":"#fff"},{"offset":0.056,"color":"#000"},{"offset":0.06,"color":"#000"},{"offset":0.06,"color":"#fff"},{"offset":0.064,"color":"#fff"},{"offset":0.064,"color":"#000"},{"offset":0.068,"color":"#000"},{"offset":0.068,"color":"#fff"},{"offset":0.072,"color":"#fff"},{"offset":0.072,"color":"#000"},{"offset":0.076,"color":"#000"},{"offset":0.076,"color":"#fff"},{"offset":0.08,"color":"#fff"},{"offset":0.08,"color":"#000"},
{"offset":0.084,"color":"#000"},{"offset":0.084,"color":"#fff"},{"offset":0.088,"color":"#fff"},{"offset":0.088,"color":"#000"},{"offset":0.092,"color":"#000"},{"offset":0.092,"color":"#fff"},{"offset":0.096,"color":"#fff"},{"offset":0.096,"color":"#000"},{"offset":0.1,"color":"#000"},{"offset":0.1,"color":"#fff"},{"offset":0.104,"color":"#fff"},{"offset":0.104,"color":"#000"},{"offset":0.108,"color":"#000"},{"offset":0.108,"color":"#fff"},{"offset":0.112,"color":"#fff"},{"offset":0.112,"color":"#000"},{"offset":0.116,"color":"#000"},{"offset":0.116,"color":"#fff"},{"offset":0.12,"color":"#fff"},{"offset":0.12,"color":"#000"},
{"offset":0.124,"color":"#000"},{"offset":0.124,"color":"#fff"},{"offset":0.128,"color":"#fff"},{"offset":0.128,"color":"#000"},{"offset":0.132,"color":"#000"},{"offset":0.132,"color":"#fff"},{"offset":0.136,"color":"#fff"},{"offset":0.136,"color":"#000"},{"offset":0.14,"color":"#000"},{"offset":0.14,"color":"#fff"},{"offset":0.144,"color":"#fff"},{"offset":0.144,"color":"#000"},{"offset":0.148,"color":"#000"},{"offset":0.148,"color":"#fff"},{"offset":0.152,"color":"#fff"},{"offset":0.152,"color":"#000"},{"offset":0.156,"color":"#000"},{"offset":0.156,"color":"#fff"},{"offset":0.16,"color":"#fff"},{"offset":0.16,"color":"#000"},
{"offset":0.164,"color":"#000"},{"offset":0.164,"color":"#fff"},{"offset":0.168,"color":"#fff"},{"offset":0.168,"color":"#000"},{"offset":0.172,"color":"#000"},{"offset":0.172,"color":"#fff"},{"offset":0.176,"color":"#fff"},{"offset":0.176,"color":"#000"},{"offset":0.18,"color":"#000"},{"offset":0.18,"color":"#fff"},{"offset":0.184,"color":"#fff"},{"offset":0.184,"color":"#000"},{"offset":0.188,"color":"#000"},{"offset":0.188,"color":"#fff"},{"offset":0.192,"color":"#fff"},{"offset":0.192,"color":"#000"},{"offset":0.196,"color":"#000"},{"offset":0.196,"color":"#fff"},{"offset":0.2,"color":"#fff"},{"offset":0.2,"color":"#000"},
{"offset":0.204,"color":"#000"},{"offset":0.204,"color":"#fff"},{"offset":0.208,"color":"#fff"},{"offset":0.208,"color":"#000"},{"offset":0.212,"color":"#000"},{"offset":0.212,"color":"#fff"},{"offset":0.216,"color":"#fff"},{"offset":0.216,"color":"#000"},{"offset":0.22,"color":"#000"},{"offset":0.22,"color":"#fff"},{"offset":0.224,"color":"#fff"},{"offset":0.224,"color":"#000"},{"offset":0.228,"color":"#000"},{"offset":0.228,"color":"#fff"},{"offset":0.232,"color":"#fff"},{"offset":0.232,"color":"#000"},{"offset":0.236,"color":"#000"},{"offset":0.236,"color":"#fff"},{"offset":0.24,"color":"#fff"},{"offset":0.24,"color":"#000"},
{"offset":0.244,"color":"#000"},{"offset":0.244,"color":"#fff"},{"offset":0.248,"color":"#fff"},{"offset":0.248,"color":"#000"},{"offset":0.252,"color":"#000"},{"offset":0.252,"color":"#fff"},{"offset":0.256,"color":"#fff"},{"offset":0.256,"color":"#000"},{"offset":0.26,"color":"#000"},{"offset":0.26,"color":"#fff"},{"offset":0.264,"color":"#fff"},{"offset":0.264,"color":"#000"},{"offset":0.268,"color":"#000"},{"offset":0.268,"color":"#fff"},{"offset":0.272,"color":"#fff"},{"offset":0.272,"color":"#000"},{"offset":0.276,"color":"#000"},{"offset":0.276,"color":"#fff"},{"offset":0.28,"color":"#fff"},{"offset":0.28,"color":"#000"},
{"offset":0.284,"color":"#000"},{"offset":0.284,"color":"#fff"},{"offset":0.288,"color":"#fff"},{"offset":0.288,"color":"#000"},{"offset":0.292,"color":"#000"},{"offset":0.292,"color":"#fff"},{"offset":0.296,"color":"#fff"},{"offset":0.296,"color":"#000"},{"offset":0.3,"color":"#000"},{"offset":0.3,"color":"#fff"},{"offset":0.304,"color":"#fff"},{"offset":0.304,"color":"#000"},{"offset":0.308,"color":"#000"},{"offset":0.308,"color":"#fff"},{"offset":0.312,"color":"#fff"},{"offset":0.312,"color":"#000"},{"offset":0.316,"color":"#000"},{"offset":0.316,"color":"#fff"},{"offset":0.32,"color":"#fff"},{"offset":0.32,"color":"#000"},
{"offset":0.324,"color":"#000"},{"offset":0.324,"color":"#fff"},{"offset":0.328,"color":"#fff"},{"offset":0.328,"color":"#000"},{"offset":0.332,"color":"#000"},{"offset":0.332,"color":"#fff"},{"offset":0.336,"color":"#fff"},{"offset":0.336,"color":"#000"},{"offset":0.34,"color":"#000"},{"offset":0.34,"color":"#fff"},{"offset":0.344,"color":"#fff"},{"offset":0.344,"color":"#000"},{"offset":0.348,"color":"#000"},{"offset":0.348,"color":"#fff"},{"offset":0.352,"color":"#fff"},{"offset":0.352,"color":"#000"},{"offset":0.356,"color":"#000"},{"offset":0.356,"color":"#fff"},{"offset":0.36,"color":"#fff"},{"offset":0.36,"color":"#000"},
{"offset":0.364,"color":"#000"},{"offset":0.364,"color":"#fff"},{"offset":0.368,"color":"#fff"},{"offset":0.368,"color":"#000"},{"offset":0.372,"color":"#000"},{"offset":0.372,"color":"#fff"},{"offset":0.376,"color":"#fff"},{"offset":0.376,"color":"#000"},{"offset":0.38,"color":"#000"},{"offset":0.38,"color":"#fff"},{"offset":0.384,"color":"#fff"},{"offset":0.384,"color":"#000"},{"offset":0.388,"color":"#000"},{"offset":0.388,"color":"#fff"},{"offset":0.392,"color":"#fff"},{"offset":0.392,"color":"#000"},{"offset":0.396,"color":"#000"},{"offset":0.396,"color":"#fff"},{"offset":0.4,"color":"#fff"},{"offset":0.4,"color":"#000"},
{"offset":0.404,"color":"#000"},{"offset":0.404,"color":"#fff"},{"offset":0.408,"color":"#fff"},{"offset":0.408,"color":"#000"},{"offset":0.412,"color":"#000"},{"offset":0.412,"color":"#fff"},{"offset":0.416,"color":"#fff"},{"offset":0.416,"color":"#000"},{"offset":0.42,"color":"#000"},{"offset":0.42,"color":"#fff"},{"offset":0.424,"color":"#fff"},{"offset":0.424,"color":"#000"},{"offset":0.428,"color":"#000"},{"offset":0.428,"color":"#fff"},{"offset":0.432,"color":"#fff"},{"offset":0.432,"color":"#000"},{"offset":0.436,"color":"#000"},{"offset":0.436,"color":"#fff"},{"offset":0.44,"color":"#fff"},{"offset":0.44,"color":"#000"},
{"offset":0.444,"color":"#000"},{"offset":0.444,"color":"#fff"},{"offset":0.448,"color":"#fff"},{"offset":0.448,"color":"#000"},{"offset":0.452,"color":"#000"},{"offset":0.452,"color":"#fff"},{"offset":0.456,"color":"#fff"},{"offset":0.456,"color":"#000"},{"offset":0.46,"color":"#000"},{"offset":0.46,"color":"#fff"},{"offset":0.464,"color":"#fff"},{"offset":0.464,"color":"#000"},{"offset":0.468,"color":"#000"},{"offset":0.468,"color":"#fff"},{"offset":0.472,"color":"#fff"},{"offset":0.472,"color":"#000"},{"offset":0.476,"color":"#000"},{"offset":0.476,"color":"#fff"},{"offset":0.48,"color":"#fff"},{"offset":0.48,"color":"#000"},
{"offset":0.484,"color":"#000"},{"offset":0.484,"color":"#fff"},{"offset":0.488,"color":"#fff"},{"offset":0.488,"color":"#000"},{"offset":0.492,"color":"#000"},{"offset":0.492,"color":"#fff"},{"offset":0.496,"color":"#fff"},{"offset":0.496,"color":"#000"},{"offset":0.5,"color":"#000"},{"offset":0.5,"color":"#fff"},{"offset":0.504,"color":"#fff"},{"offset":0.504,"color":"#000"},{"offset":0.508,"color":"#000"},{"offset":0.508,"color":"#fff"},{"offset":0.512,"color":"#fff"},{"offset":0.512,"color":"#000"},{"offset":0.516,"color":"#000"},{"offset":0.516,"color":"#fff"},{"offset":0.52,"color":"#fff"},{"offset":0.52,"color":"#000"},
{"offset":0.524,"color":"#000"},{"offset":0.524,"color":"#fff"},{"offset":0.528,"color":"#fff"},{"offset":0.528,"color":"#000"},{"offset":0.532,"color":"#000"},{"offset":0.532,"color":"#fff"},{"offset":0.536,"color":"#fff"},{"offset":0.536,"color":"#000"},{"offset":0.54,"color":"#000"},{"offset":0.54,"color":"#fff"},{"offset":0.544,"color":"#fff"},{"offset":0.544,"color":"#000"},{"offset":0.548,"color":"#000"},{"offset":0.548,"color":"#fff"},{"offset":0.552,"color":"#fff"},{"offset":0.552,"color":"#000"},{"offset":0.556,"color":"#000"},{"offset":0.556,"color":"#fff"},{"offset":0.56,"color":"#fff"},{"offset":0.56,"color":"#000"},
{"offset":0.564,"color":"#000"},{"offset":0.564,"color":"#fff"},{"offset":0.568,"color":"#fff"},{"offset":0.568,"color":"#000"},{"offset":0.572,"color":"#000"},{"offset":0.572,"color":"#fff"},{"offset":0.576,"color":"#fff"},{"offset":0.576,"color":"#000"},{"offset":0.58,"color":"#000"},{"offset":0.58,"color":"#fff"},{"offset":0.584,"color":"#fff"},{"offset":0.584,"color":"#000"},{"offset":0.588,"color":"#000"},{"offset":0.588,"color":"#fff"},{"offset":0.592,"color":"#fff"},{"offset":0.592,"color":"#000"},{"offset":0.596,"color":"#000"},{"offset":0.596,"color":"#fff"},{"offset":0.6,"color":"#fff"},{"offset":0.6,"color":"#000"},
{"offset":0.604,"color":"#000"},{"offset":0.604,"color":"#fff"},{"offset":0.608,"color":"#fff"},{"offset":0.608,"color":"#000"},{"offset":0.612,"color":"#000"},{"offset":0.612,"color":"#fff"},{"offset":0.616,"color":"#fff"},{"offset":0.616,"color":"#000"},{"offset":0.62,"color":"#000"},{"offset":0.62,"color":"#fff"},{"offset":0.624,"color":"#fff"},{"offset":0.624,"color":"#000"},{"offset":0.628,"color":"#000"},{"offset":0.628,"color":"#fff"},{"offset":0.632,"color":"#fff"},{"offset":0.632,"color":"#000"},{"offset":0.636,"color":"#000"},{"offset":0.636,"color":"#fff"},{"offset":0.64,"color":"#fff"},{"offset":0.64,"color":"#000"},
{"offset":0.644,"color":"#000"},{"offset":0.644,"color":"#fff"},{"offset":0.648,"color":"#fff"},{"offset":0.648,"color":"#000"},{"offset":0.652,"color":"#000"},{"offset":0.652,"color":"#fff"},{"offset":0.656,"color":"#fff"},{"offset":0.656,"color":"#000"},{"offset":0.66,"color":"#000"},{"offset":0.66,"color":"#fff"},{"offset":0.664,"color":"#fff"},{"offset":0.664,"color":"#000"},{"offset":0.668,"color":"#000"},{"offset":0.668,"color":"#fff"},{"offset":0.672,"color":"#fff"},{"offset":0.672,"color":"#000"},{"offset":0.676,"color":"#000"},{"offset":0.676,"color":"#fff"},{"offset":0.68,"color":"#fff"},{"offset":0.68,"color":"#000"},
{"offset":0.684,"color":"#000"},{"offset":0.684,"color":"#fff"},{"offset":0.688,"color":"#fff"},{"offset":0.688,"color":"#000"},{"offset":0.692,"color":"#000"},{"offset":0.692,"color":"#fff"},{"offset":0.696,"color":"#fff"},{"offset":0.696,"color":"#000"},{"offset":0.7,"color":"#000"},{"offset":0.7,"color":"#fff"},{"offset":0.704,"color":"#fff"},{"offset":0.704,"color":"#000"},{"offset":0.708,"color":"#000"},{"offset":0.708,"color":"#fff"},{"offset":0.712,"color":"#fff"},{"offset":0.712,"color":"#000"},{"offset":0.716,"color":"#000"},{"offset":0.716,"color":"#fff"},{"offset":0.72,"color":"#fff"},{"offset":0.72,"color":"#000"},
{"offset":0.724,"color":"#000"},{"offset":0.724,"color":"#fff"},{"offset":0.728,"color":"#fff"},{"offset":0.728,"color":"#000"},{"offset":0.732,"color":"#000"},{"offset":0.732,"color":"#fff"},{"offset":0.736,"color":"#fff"},{"offset":0.736,"color":"#000"},{"offset":0.74,"color":"#000"},{"offset":0.74,"color":"#fff"},{"offset":0.744,"color":"#fff"},{"offset":0.744,"color":"#000"},{"offset":0.748,"color":"#000"},{"offset":0.748,"color":"#fff"},{"offset":0.752,"color":"#fff"},{"offset":0.752,"color":"#000"},{"offset":0.756,"color":"#000"},{"offset":0.756,"color":"#fff"},{"offset":0.76,"color":"#fff"},{"offset":0.76,"color":"#000"},
{"offset":0.764,"color":"#000"},{"offset":0.764,"color":"#fff"},{"offset":0.768,"color":"#fff"},{"offset":0.768,"color":"#000"},{"offset":0.772,"color":"#000"},{"offset":0.772,"color":"#fff"},{"offset":0.776,"color":"#fff"},{"offset":0.776,"color":"#000"},{"offset":0.78,"color":"#000"},{"offset":0.78,"color":"#fff"},{"offset":0.784,"color":"#fff"},{"offset":0.784,"color":"#000"},{"offset":0.788,"color":"#000"},{"offset":0.788,"color":"#fff"},{"offset":0.792,"color":"#fff"},{"offset":0.792,"color":"#000"},{"offset":0.796,"color":"#000"},{"offset":0.796,"color":"#fff"},{"offset":0.8,"color":"#fff"},{"offset":0.8,"color":"#000"},
{"offset":0.804,"color":"#000"},{"offset":0.804,"color":"#fff"},{"offset":0.808,"color":"#fff"},{"offset":0.808,"color":"#000"},{"offset":0.812,"color":"#000"},{"offset":0.812,"color":"#fff"},{"offset":0.816,"color":"#fff"},{"offset":0.816,"color":"#000"},{"offset":0.82,"color":"#000"},{"offset":0.82,"color":"#fff"},{"offset":0.824,"color":"#fff"},{"offset":0.824,"color":"#000"},{"offset":0.828,"color":"#000"},{"offset":0.828,"color":"#fff"},{"offset":0.832,"color":"#fff"},{"offset":0.832,"color":"#000"},{"offset":0.836,"color":"#000"},{"offset":0.836,"color":"#fff"},{"offset":0.84,"color":"#fff"},{"offset":0.84,"color":"#000"},
{"offset":0.844,"color":"#000"},{"offset":0.844,"color":"#fff"},{"offset":0.848,"color":"#fff"},{"offset":0.848,"color":"#000"},{"offset":0.852,"color":"#000"},{"offset":0.852,"color":"#fff"},{"offset":0.856,"color":"#fff"},{"offset":0.856,"color":"#000"},{"offset":0.86,"color":"#000"},{"offset":0.86,"color":"#fff"},{"offset":0.864,"color":"#fff"},{"offset":0.864,"color":"#000"},{"offset":0.868,"color":"#000"},{"offset":0.868,"color":"#fff"},{"offset":0.872,"color":"#fff"},{"offset":0.872,"color":"#000"},{"offset":0.876,"color":"#000"},{"offset":0.876,"color":"#fff"},{"offset":0.88,"color":"#fff"},{"offset":0.88,"color":"#000"},
{"offset":0.884,"color":"#000"},{"offset":0.884,"color":"#fff"},{"offset":0.888,"color":"#fff"},{"offset":0.888,"color":"#000"},{"offset":0.892,"color":"#000"},{"offset":0.892,"color":"#fff"},{"offset":0.896,"color":"#fff"},{"offset":0.896,"color":"#000"},{"offset":0.9,"color":"#000"},{"offset":0.9,"color":"#fff"},{"offset":0.904,"color":"#fff"},{"offset":0.904,"color":"#000"},{"offset":0.908,"color":"#000"},{"offset":0.908,"color":"#fff"},{"offset":0.912,"color":"#fff"},{"offset":0.912,"color":"#000"},{"offset":0.916,"color":"#000"},{"offset":0.916,"color":"#fff"},{"offset":0.92,"color":"#fff"},{"offset":0.92,"color":"#000"},
{"offset":0.924,"color":"#000"},{"offset":0.924,"color":"#fff"},{"offset":0.928,"color":"#fff"},{"offset":0.928,"color":"#000"},{"offset":0.932,"color":"#000"},{"offset":0.932,"color":"#fff"},{"offset":0.936,"color":"#fff"},{"offset":0.936,"color":"#000"},{"offset":0.94,"color":"#000"},{"offset":0.94,"color":"#fff"},{"offset":0.944,"color":"#fff"},{"offset":0.944,"color":"#000"},{"offset":0.948,"color":"#000"},{"offset":0.948,"color":"#fff"},{"offset":0.952,"color":"#fff"},{"offset":0.952,"color":"#000"},{"offset":0.956,"color":"#000"},{"offset":0.956,"color":"#fff"},{"offset":0.96,"color":"#fff"},{"offset":0.96,"color":"#000"},
{"offset":0.964,"color":"#000"},{"offset":0.964,"color":"#fff"},{"offset":0.968,"color":"#fff"},{"offset":0.968,"color":"#000"},{"offset":0.972,"color":"#000"},{"offset":0.972,"color":"#fff"},{"offset":0.976,"color":"#fff"},{"offset":0.976,"color":"#000"},{"offset":0.98,"color":"#000"},{"offset":0.98,"color":"#fff"},{"offset":0.984,"color":"#fff"},{"offset":0.984,"color":"#000"},{"offset":0.988,"color":"#000"},{"offset":0.988,"color":"#fff"},{"offset":0.992,"color":"#fff"},{"offset":0.992,"color":"#000"}
]}}
]}}},
{"mark":{"type":"rule","color":"#000","strokeWidth":2},"encoding":{"y":{"field":"value","type":"quantitative","scale":{"domain":[0,100],"nice":false,"zero":true},"axis":{"orient":"right","offset":-491,"title":null,"values":[10,20,30,40,50,60,70,80,90,100],"grid":false,"domain":false,"labels":false,"ticks":true,"tickSize":12,"tickWidth":2,"tickColor":"#000"}},"y2":{"field":"hi"}}},
{"mark":{"type":"rule","strokeWidth":1.5},"encoding":{"y":{"field":"lo","type":"quantitative","axis":null,"scale":{"domain":[0,100],"nice":false,"zero":true}},"y2":{"field":"value"},"stroke":{"condition":{"test":"datum.group==='In Normals at 2 h'","value":"#fff"},"value":"#000"}}},
{"mark":{"type":"tick","thickness":2,"size":9,"color":"#000"},"encoding":{"y":{"field":"hi","type":"quantitative","axis":null,"scale":{"domain":[0,100],"nice":false,"zero":true}}}},
{"mark":{"type":"tick","thickness":2,"size":9},"encoding":{"y":{"field":"lo","type":"quantitative","axis":null,"scale":{"domain":[0,100],"nice":false,"zero":true}},"color":{"condition":{"test":"datum.group==='In Normals at 2 h'","value":"#fff"},"value":"#000"}}}
]
}
